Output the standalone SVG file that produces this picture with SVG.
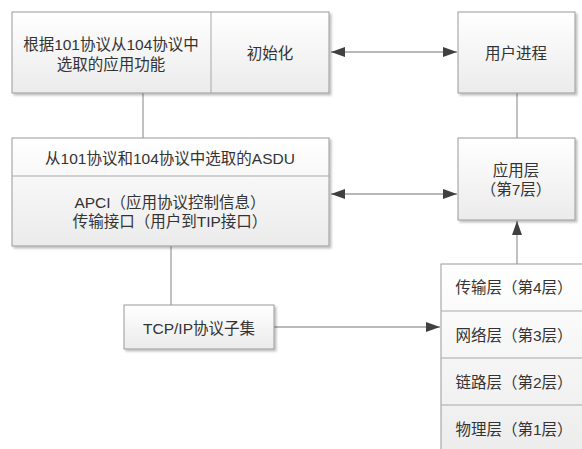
<svg xmlns="http://www.w3.org/2000/svg" width="582" height="449" viewBox="0 0 582 449">
<defs>
<linearGradient id="g" x1="0" y1="0" x2="0" y2="1">
<stop offset="0" stop-color="#ffffff"/>
<stop offset="1" stop-color="#ebebeb"/>
</linearGradient>
<filter id="sh" x="-10%" y="-10%" width="130%" height="130%">
<feDropShadow dx="2" dy="2" stdDeviation="1.2" flood-color="#000" flood-opacity="0.25"/>
</filter>
<marker id="ah" viewBox="0 0 14 10" refX="14" refY="5" markerWidth="14" markerHeight="10" markerUnits="userSpaceOnUse" orient="auto-start-reverse">
<path d="M0,0 L14,5 L0,10 Z" fill="#404040"/>
</marker>
</defs>
<style>
.box{fill:url(#g);stroke:#9a9a9a;stroke-width:1;filter:url(#sh)}
.div{stroke:#a8a8a8;stroke-width:1;fill:none}
.ln{stroke:#a0a0a0;stroke-width:1.3;fill:none}
text{font-family:"Liberation Sans","Noto Sans CJK SC",sans-serif;font-size:15.5px;fill:#333;text-anchor:middle;dominant-baseline:central}
</style>
<g id="connectors">
<line class="ln" x1="143" y1="93" x2="143" y2="138"/>
<line class="ln" x1="517" y1="93" x2="517" y2="138"/>
<line class="ln" x1="171" y1="246" x2="171" y2="305"/>
<line class="ln" x1="331" y1="52" x2="457" y2="52" marker-start="url(#ah)" marker-end="url(#ah)"/>
<line class="ln" x1="331" y1="194" x2="457" y2="194" marker-start="url(#ah)" marker-end="url(#ah)"/>
<line class="ln" x1="274" y1="327" x2="440" y2="327" marker-end="url(#ah)"/>
<line class="ln" x1="517" y1="264" x2="517" y2="221" marker-end="url(#ah)"/>
</g>
<g id="node-top">
<rect class="box" x="12" y="12" width="317" height="81"/>
<line class="div" x1="211" y1="12" x2="211" y2="93"/>
<text x="111" y="44">根据101协议从104协议中</text>
<text x="111" y="64">选取的应用功能</text>
<text x="270" y="53">初始化</text>
</g>
<g id="node-user">
<rect class="box" x="458" y="12" width="117" height="81"/>
<text x="516" y="53">用户进程</text>
</g>
<g id="node-asdu">
<rect class="box" x="12" y="138" width="317" height="108"/>
<line class="div" x1="12" y1="176" x2="329" y2="176"/>
<text x="170" y="158">从101协议和104协议中选取的ASDU</text>
<text x="170" y="202">APCI（应用协议控制信息）</text>
<text x="170" y="221">传输接口（用户到TIP接口）</text>
</g>
<g id="node-app">
<rect class="box" x="458" y="138" width="117" height="82"/>
<text x="516" y="170">应用层</text>
<text x="516" y="189">（第7层）</text>
</g>
<g id="node-tcp">
<rect class="box" x="124" y="305" width="150" height="44"/>
<text x="199" y="328">TCP/IP协议子集</text>
</g>
<g id="node-layers">
<rect class="box" x="441" y="264" width="150" height="200"/>
<line class="div" x1="441" y1="311" x2="591" y2="311"/>
<line class="div" x1="441" y1="358" x2="591" y2="358"/>
<line class="div" x1="441" y1="405" x2="591" y2="405"/>
<text x="514" y="287">传输层（第4层）</text>
<text x="514" y="335">网络层（第3层）</text>
<text x="514" y="382">链路层（第2层）</text>
<text x="514" y="429">物理层（第1层）</text>
</g>
</svg>
